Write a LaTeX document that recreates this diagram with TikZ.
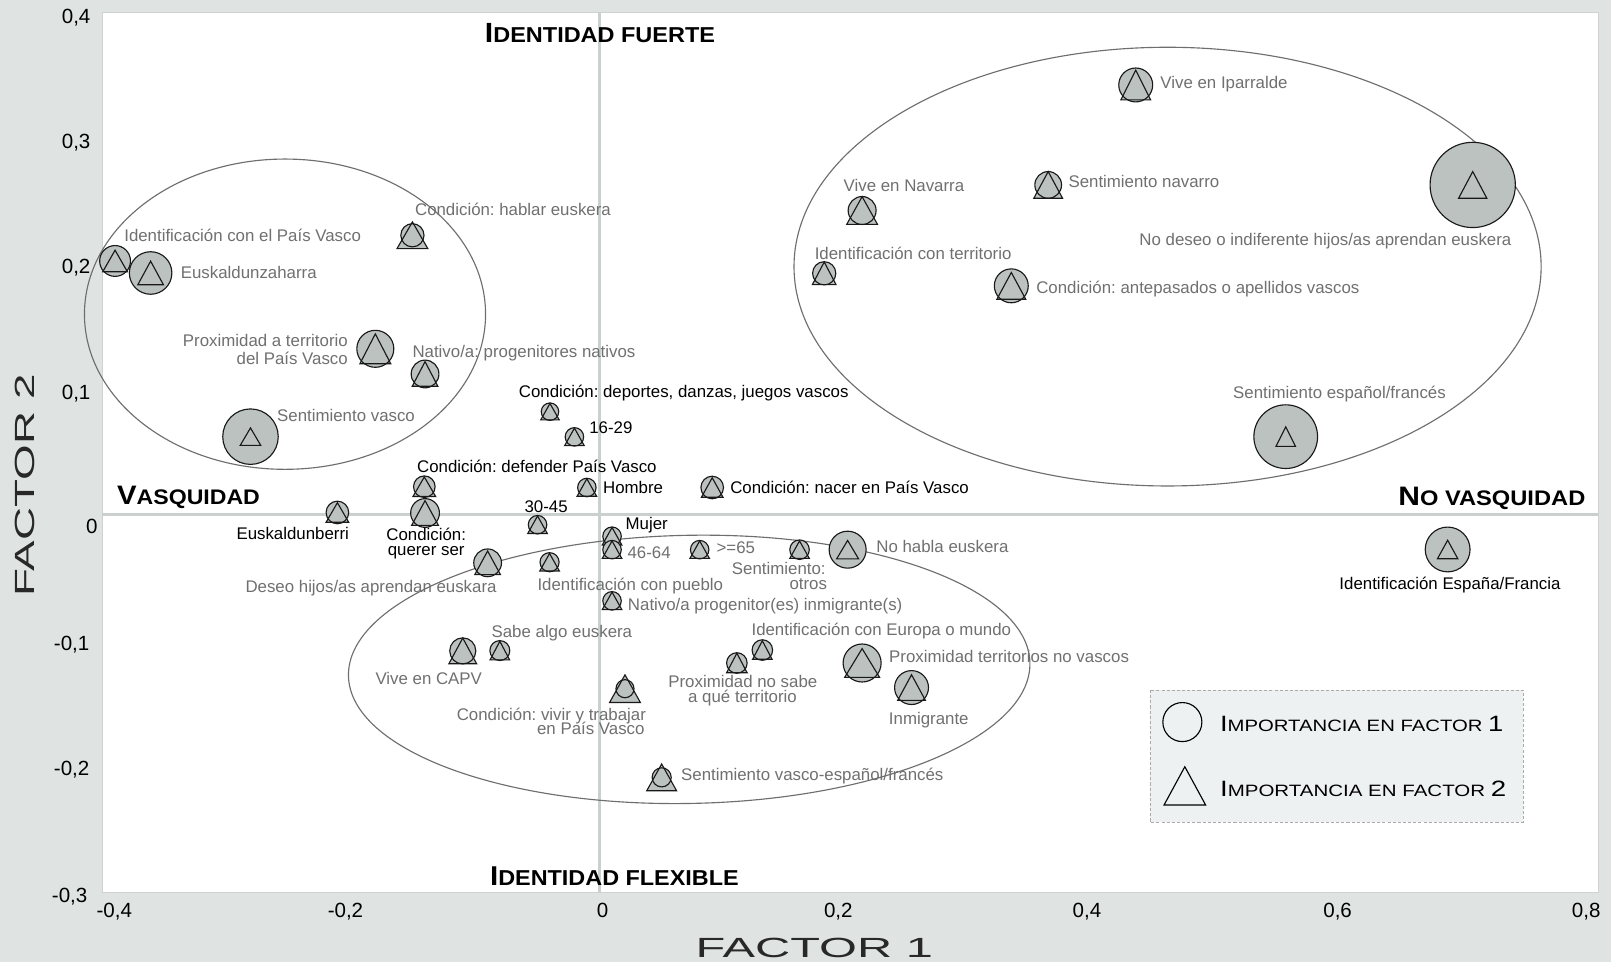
\documentclass[tikz,border=0pt]{standalone}
\usepackage{fontspec}
\setmainfont{Liberation Sans}
\usepackage{graphicx}
\frenchspacing
\definecolor{bg}{RGB}{223,227,226}
\definecolor{gridc}{RGB}{201,208,206}
\definecolor{mkfill}{RGB}{188,194,192}
\definecolor{lblgray}{RGB}{112,112,112}
\definecolor{ellc}{RGB}{110,110,110}
\definecolor{legfill}{RGB}{238,241,242}
\definecolor{legdash}{RGB}{170,170,170}
\definecolor{axt}{RGB}{40,40,40}
\definecolor{plotedge}{RGB}{205,211,210}
\tikzset{
 mkc/.style={circle, draw=black!90, line width=1.1pt, inner sep=0pt, outer sep=0pt},
 mkt/.style={draw=black!90, line width=1.1pt},
 lbl/.style={font=\fontsize{16.4}{16.4}\selectfont, text=lblgray, inner sep=0pt, outer sep=0pt, text height=11pt, text depth=0pt},
 blk/.style={lbl, text=black},
 tk/.style={font=\fontsize{20}{20}\selectfont, text=black, inner sep=0pt, outer sep=0pt, text height=14.3pt, text depth=0pt},
 hd/.style={inner sep=0pt, outer sep=0pt, text=black},
 ell/.style={draw=ellc, line width=1.1pt},
 gridl/.style={draw=gridc, line width=3.5pt},
}
% marker: name, x, y, circle radius, triangle width, triangle height
\newcommand\mkr[6]{%
  \fill[mkfill] (#2,#3) circle[radius=#4pt];
  \fill[mkfill] (#2,#3) ++({-0.5*#5},{0.5*#6}) -- ++(#5,0) -- ++({-0.5*#5},{-#6}) -- cycle;
  \node[mkc, minimum size={2*#4pt}] (#1) at (#2,#3) {};
  \draw[mkt] (#2,#3) ++({-0.5*#5},{0.5*#6}) -- ++(#5,0) -- ++({-0.5*#5},{-#6}) -- cycle;
}
\newcommand\fs[1]{\fontsize{#1}{#1}\selectfont}
\begin{document}
\begin{tikzpicture}[x=1pt,y=-1pt]
\useasboundingbox (0,0) rectangle (1568,936);
\fill[bg] (0,0) rectangle (1568,936);
\filldraw[fill=white, draw=plotedge, line width=0.8pt] (99.3,12) rectangle (1555.4,868.2);
% grid lines
\draw[gridl] (99.3,500.6) -- (1555.4,500.6);
\draw[gridl] (583.5,12) -- (583.5,868.2);
% ellipses
\draw[ell] (277.4,305.8) ellipse [x radius=195.2pt, y radius=151pt];
\draw[ell] (1136.4,259.5) ellipse [x radius=363.6pt, y radius=213.5pt];
\draw[ell, rotate around={1.1:(670.8,651.5)}] (670.8,651.5) ellipse [x radius=331.7pt, y radius=130.5pt];
% headings
\node[hd, anchor=base west] (hfu) at (472,41.5) {\resizebox{224pt}{\height}{\bfseries\fs{27}I\fs{21}DENTIDAD FUERTE}};
\node[hd, anchor=base west] (hva) at (114,491.5) {\resizebox{139pt}{\height}{\bfseries\fs{26}V\fs{20.5}ASQUIDAD}};
\node[hd, anchor=base west] (hnv) at (1361,492.2) {\resizebox{182pt}{\height}{\bfseries\fs{26}N\fs{20.5}O VASQUIDAD}};
\node[hd, anchor=base west] (hfl) at (477,861.4) {\resizebox{242pt}{\height}{\bfseries\fs{26.5}I\fs{21}DENTIDAD FLEXIBLE}};
% axis titles
\node[hd, text=axt, anchor=base west] (f1) at (677,932) {\resizebox{231pt}{\height}{\fs{27}FACTOR 1}};
\node[hd, text=axt, anchor=base west, rotate=90] (f2) at (34,580.8) {\resizebox{217pt}{\height}{\fs{27}FACTOR 2}};
% y tick labels
\node[tk, anchor=east] (y4) at (88,15.4) {0,4};
\node[tk, anchor=east] (y3) at (88,137.4) {0,3};
\node[tk, anchor=east] (y2) at (88,259.4) {0,2};
\node[tk, anchor=east] (y1) at (88,381.3) {0,1};
\node[tk, anchor=east] (y0) at (95,512.3) {0};
\node[tk, anchor=east] (ym1) at (87,626) {-0,1};
\node[tk, anchor=east] (ym2) at (87,748) {-0,2};
\node[tk, anchor=east] (ym3) at (85,871) {-0,3};
% x tick labels
\node[tk, anchor=west] (xm4) at (94,885.4) {-0,4};
\node[tk, anchor=west] (xm2) at (319,885.4) {-0,2};
\node[tk, anchor=west] (x0) at (581,885.4) {0};
\node[tk, anchor=west] (x2) at (802,885.4) {0,2};
\node[tk, anchor=west] (x4) at (1044,885.4) {0,4};
\node[tk, anchor=west] (x6) at (1288,885.4) {0,6};
\node[tk, anchor=west] (x8) at (1530,885.4) {0,8};
% markers
\mkr{m1}{112}{254}{15}{24}{21}
\mkr{m2}{146.6}{265.7}{20.7}{25}{23}
\mkr{m3}{401.4}{229}{11.3}{30}{26}
\mkr{m4}{365.3}{339.5}{18}{30}{29}
\mkr{m5}{413.7}{364}{13.5}{25}{24}
\mkr{m6}{243.8}{425}{27}{20}{17}
\mkr{m7}{535.3}{400.7}{8.5}{18}{16}
\mkr{m8}{559.1}{425.2}{9}{19}{17}
\mkr{m9}{413}{473.7}{10.5}{22}{19}
\mkr{m10}{571.2}{474.5}{9}{19}{17}
\mkr{m11}{693.2}{474.5}{11}{21}{19}
\mkr{m12}{328.4}{498.8}{11}{22}{19}
\mkr{m13}{413.7}{499.3}{14}{26}{24}
\mkr{m14}{523.2}{510.7}{9}{19}{17}
\mkr{m15}{595.7}{521.9}{9}{19}{17}
\mkr{m16}{595.7}{535}{9}{19}{17}
\mkr{m17}{681}{535}{9}{19}{17}
\mkr{m18}{778.2}{535}{9.5}{19}{17}
\mkr{m19}{825}{535}{18}{21.4}{18}
\mkr{m20}{474.6}{547.8}{13.5}{25}{23}
\mkr{m21}{534.9}{547.2}{9.3}{19}{17}
\mkr{m22}{595.7}{584.8}{9}{19}{17}
\mkr{m23}{486.5}{633.2}{9.7}{19}{18}
\mkr{m24}{450.4}{633.5}{12.7}{27}{25}
\mkr{m25}{742}{632.7}{10}{19}{18}
\mkr{m26}{717.2}{645.3}{10}{20}{19}
\mkr{m27}{839.1}{645.3}{18.5}{34}{28}
\mkr{m28}{887.2}{669.2}{16.5}{27}{25}
\mkr{m29}{608.3}{670.3}{8.8}{30}{27}
\mkr{m30}{644}{756.6}{9.3}{29}{26}
\mkr{m31}{1105.4}{82.7}{16.5}{29}{29}
\mkr{m32}{1020.2}{180}{13}{28}{26}
\mkr{m33}{839.1}{204.9}{13.6}{30}{27}
\mkr{m34}{802.2}{266}{11.3}{23}{22}
\mkr{m35}{984.3}{278.2}{16.5}{28}{26}
\mkr{m36}{1433.4}{180}{41.5}{27.5}{26}
\mkr{m37}{1251.4}{425}{31}{19}{19}
\mkr{m38}{1409}{534.8}{21.8}{19.8}{18}
% labels
\node[lbl, anchor=west] (l1) at (121,229.4) {Identificación con el País Vasco};
\node[lbl, anchor=west] (l2) at (176,266) {Euskaldunzaharra};
\node[lbl, anchor=west] (l3) at (404,204.4) {Condición: hablar euskera};
\node[lbl, anchor=east] (l4a) at (338.5,332.2) {Proximidad a territorio};
\node[lbl, anchor=east] (l4b) at (338.5,349.2) {del País Vasco};
\node[lbl, anchor=west] (l5) at (401.5,342.3) {Nativo/a: progenitores nativos};
\node[lbl, anchor=west] (l6) at (269.8,404.6) {Sentimiento vasco};
\node[blk, anchor=west] (l7) at (505,381.2) {Condición: deportes, danzas, juegos vascos};
\node[blk, anchor=west] (l8) at (573.6,416.9) {16-29};
\node[blk, anchor=west] (l9) at (406,454.2) {Condición: defender País Vasco};
\node[blk, anchor=west] (l10) at (587,474.7) {Hombre};
\node[blk, anchor=west] (l11) at (710.8,474.7) {Condición: nacer en País Vasco};
\node[blk] (l12) at (284.9,520) {Euskaldunberri};
\node[blk] (l13a) at (414.8,520.3) {Condición:};
\node[blk] (l13b) at (414.8,534.8) {querer ser};
\node[blk] (l14) at (531.5,493.2) {30-45};
\node[blk, anchor=west] (l15) at (609,509.4) {Mujer};
\node[lbl, anchor=west] (l16) at (610.8,538) {46-64};
\node[lbl, anchor=west] (l17) at (697.5,533.7) {>=65};
\node[lbl, anchor=east] (l18a) at (803.6,553.6) {Sentimiento:};
\node[lbl, anchor=east] (l18b) at (804.9,568.4) {otros};
\node[lbl, anchor=west] (l19) at (853,532.7) {No habla euskera};
\node[lbl, anchor=east] (l20) at (483.3,571) {Deseo hijos/as aprendan euskara};
\node[lbl, anchor=west] (l21) at (523.2,569.4) {Identificación con pueblo};
\node[lbl, anchor=west] (l22) at (611.2,588.9) {Nativo/a progenitor(es) inmigrante(s)};
\node[lbl, anchor=west] (l23) at (478.5,614.8) {Sabe algo euskera};
\node[lbl] (l24) at (417.3,660.9) {Vive en CAPV};
\node[lbl, anchor=west] (l25) at (731.5,613.2) {Identificación con Europa o mundo};
\node[lbl] (l26a) at (723,663.9) {Proximidad no sabe};
\node[lbl] (l26b) at (722.7,678.7) {a qué territorio};
\node[lbl, anchor=west] (l27) at (865.5,639.2) {Proximidad territorios no vascos};
\node[lbl] (l28) at (904,699.2) {Inmigrante};
\node[lbl, anchor=east] (l29a) at (628.7,695.3) {Condición: vivir y trabajar};
\node[lbl, anchor=east] (l29b) at (627.3,709.6) {en País Vasco};
\node[lbl, anchor=west] (l30) at (663,754.3) {Sentimiento vasco-español/francés};
\node[lbl, anchor=west] (l31) at (1129.5,81.1) {Vive en Iparralde};
\node[lbl, anchor=west] (l32) at (1040,176.8) {Sentimiento navarro};
\node[lbl, anchor=west] (l33) at (821.2,180.7) {Vive en Navarra};
\node[lbl, anchor=west] (l34) at (793,246.6) {Identificación con territorio};
\node[lbl, anchor=west] (l35) at (1008.6,280.6) {Condición: antepasados o apellidos vascos};
\node[lbl, anchor=east] (l36) at (1471,233.6) {No deseo o indiferente hijos/as aprendan euskera};
\node[lbl] (l37) at (1303.7,382.8) {Sentimiento español/francés};
\node[blk] (l38) at (1411.3,567.8) {Identificación España/Francia};
% legend
\filldraw[fill=legfill, draw=legdash, line width=0.8pt, dash pattern=on 3pt off 2pt] (1119.3,671.6) rectangle (1482.6,800.4);
\node[circle, draw=black, line width=1.1pt, minimum size=38pt, inner sep=0pt] (legc) at (1150.8,702.8) {};
\draw[line width=1.1pt] (1153.2,764.9) ++(-20.25,18.65) -- ++(40.5,0) -- ++(-20.25,-37.3) -- cycle;
\node[hd, anchor=base west] (lg1) at (1187.5,711.5) {\resizebox{275.7pt}{\height}{\fs{21.6}I\fs{16}MPORTANCIA EN FACTOR \fs{21.6}1}};
\node[hd, anchor=base west] (lg2) at (1187.5,775.4) {\resizebox{278.5pt}{\height}{\fs{21.6}I\fs{16}MPORTANCIA EN FACTOR \fs{21.6}2}};
\end{tikzpicture}
\end{document}
